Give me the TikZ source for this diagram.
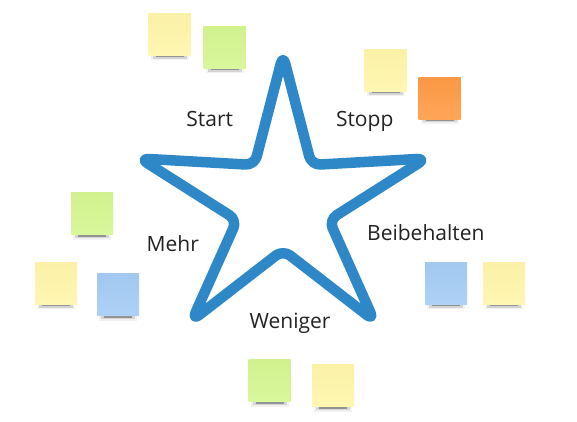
\documentclass[tikz,border=0pt]{standalone}
\usepackage{fontspec}
\setmainfont{Open Sans}
\definecolor{starblue}{RGB}{46,136,200}
\definecolor{textgray}{RGB}{35,35,35}
\definecolor{noteyellow}{RGB}{255,246,170}
\definecolor{notegreen}{RGB}{213,246,145}
\definecolor{noteblue}{RGB}{165,204,245}
\definecolor{noteorange}{RGB}{255,155,70}
\newcommand\stickynote[4]{%
  \fill[black,opacity=0.05] (#2+2,#3+38) rectangle (#2+40,#3+47);
  \fill[black,opacity=0.12] (#2+4,#3+40) rectangle (#2+38,#3+45.5);
  \fill[black,opacity=0.3] (#2+7,#3+41) rectangle (#2+35,#3+44);
  \node[note,top color=#4!98!black,bottom color=#4!90!white] (#1) at (#2,#3) {};
}
\begin{document}
\begin{tikzpicture}[x=1pt,y=-1pt,
  note/.style={minimum width=42pt,minimum height=42pt,inner sep=0pt,anchor=north west,draw=none,shading angle=0},
  lbl/.style={font=\fontsize{21}{24}\selectfont,text=textgray,anchor=base,inner sep=0pt},
  starline/.style={draw=starblue,line width=10.5pt,rounded corners=9pt,line join=round}]
\useasboundingbox[fill=white] (0,0) rectangle (577,422);

% star
\coordinate (t1) at (283,55);
\coordinate (i1) at (311.5,165);
\coordinate (t2) at (426,158.5);
\coordinate (i2) at (329,220);
\coordinate (t3) at (374,320.5);
\coordinate (i3) at (283,250);
\coordinate (t4) at (192,320.5);
\coordinate (i4) at (237,220);
\coordinate (t5) at (140,158.5);
\coordinate (i5) at (254.5,165);
\draw[starline] (t1) -- (i1) -- (t2) -- (i2) -- (t3) -- (i3) -- (t4) -- (i4) -- (t5) -- (i5) -- cycle;

% sticky notes
\stickynote{n1}{148.5}{13.5}{noteyellow}
\stickynote{n2}{203.5}{26.5}{notegreen}
\stickynote{n3}{364.5}{49.5}{noteyellow}
\stickynote{n4}{418.5}{77}{noteorange}
\stickynote{n5}{71}{192.5}{notegreen}
\stickynote{n6}{35}{262}{noteyellow}
\stickynote{n7}{97}{273.5}{noteblue}
\stickynote{n8}{425}{262}{noteblue}
\stickynote{n9}{483}{262}{noteyellow}
\stickynote{n10}{248.5}{359.5}{notegreen}
\stickynote{n11}{312}{364.5}{noteyellow}

% labels
\node[lbl] (start) at (209.7,126.7) {Start};
\node[lbl] (stopp) at (364.7,126.7) {Stopp};
\node[lbl] (mehr) at (172.8,251.7) {Mehr};
\node[lbl] (beib) at (425.8,240) {Beibehalten};
\node[lbl] (wen) at (290,328.3) {Weniger};
\end{tikzpicture}
\end{document}
